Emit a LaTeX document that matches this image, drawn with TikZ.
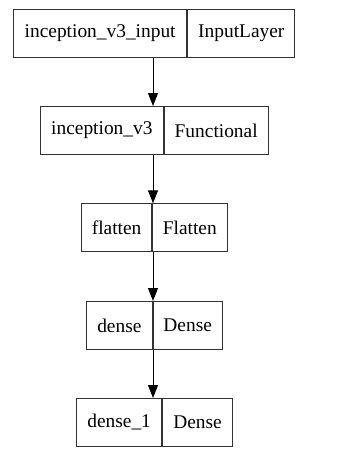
\documentclass[tikz,border=0pt]{standalone}
\usepackage{fontspec}
\setmainfont{Liberation Serif}
\usetikzlibrary{arrows.meta}
\begin{document}
\begin{tikzpicture}[x=1pt,y=-1pt,
  cell/.style={draw=black!80, line width=1pt, inner sep=0pt, minimum height=48pt,
    anchor=north west, font=\fontsize{19.4pt}{22pt}\selectfont, text=black},
  link/.style={line width=1pt, -{Triangle[length=13pt,width=10pt]}}]
  \useasboundingbox (0,0) rectangle (341,458);
  \coordinate (axis) at (153,0);
  % inception_v3_input
  \node[cell, minimum width=173.3pt] (inl) at (13,8.7) {inception\_v3\_input};
  \node[cell, minimum width=107pt] (inr) at (inl.north east) {InputLayer};
  % inception_v3
  \node[cell, minimum width=122.7pt] (incl) at (40,106) {inception\_v3};
  \node[cell, minimum width=104pt] (incr) at (incl.north east) {Functional};
  % flatten
  \node[cell, minimum width=69.7pt] (flatl) at (81.3,203.3) {flatten};
  \node[cell, minimum width=74.7pt] (flatr) at (flatl.north east) {Flatten};
  % dense
  \node[cell, minimum width=65.7pt] (densel) at (86,301) {dense};
  \node[cell, minimum width=69pt] (denser) at (densel.north east) {Dense};
  % dense_1
  \node[cell, minimum width=85.3pt] (dnsl) at (76,398) {dense\_1};
  \node[cell, minimum width=69.4pt] (dnsr) at (dnsl.north east) {Dense};
  % connectors
  \draw[link] (inl.south -| axis) -- (incl.north -| axis);
  \draw[link] (incl.south -| axis) -- (flatl.north -| axis);
  \draw[link] (flatl.south -| axis) -- (densel.north -| axis);
  \draw[link] (densel.south -| axis) -- (dnsl.north -| axis);
\end{tikzpicture}
\end{document}
